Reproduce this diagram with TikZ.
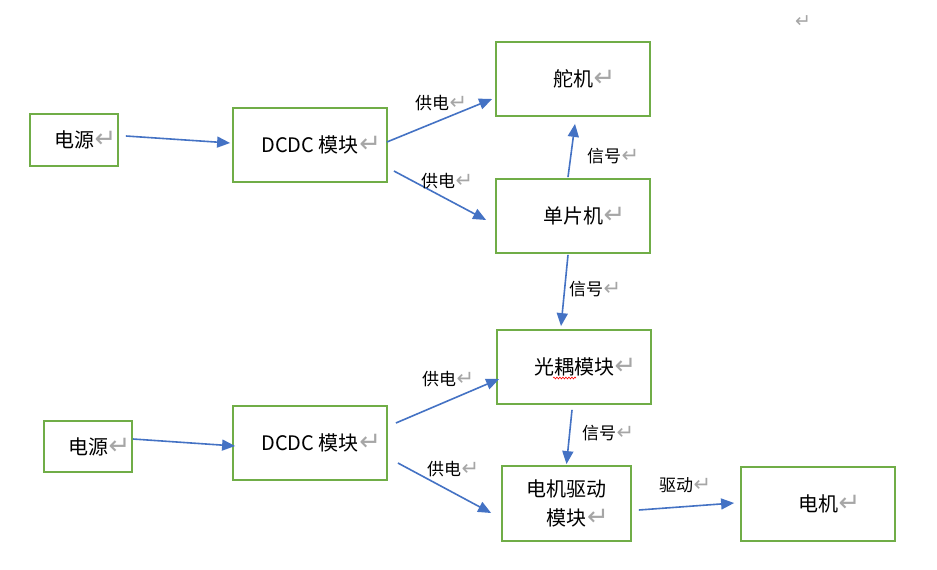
\documentclass[tikz,border=0pt]{standalone}
\usepackage{fontspec}
\newfontfamily\cjk{Noto Sans CJK SC}
\newfontfamily\dvs{DejaVu Sans}
\usetikzlibrary{arrows.meta,calc,decorations.pathmorphing}
\definecolor{boxgreen}{HTML}{70AD47}
\definecolor{arrblue}{HTML}{4472C4}
\definecolor{retgray}{HTML}{A6A6A6}
\newcommand\retmk[1][26]{\rlap{\kern0.5pt\textcolor{retgray}{\fontsize{#1}{#1}\dvs ↵}}}
\begin{document}
\begin{tikzpicture}[x=1pt,y=-1pt,
  box/.style={draw=boxgreen, line width=1.8pt, inner sep=0pt, align=center,
    font=\cjk\fontsize{20}{29}\selectfont, minimum width=154pt, minimum height=74pt},
  arr/.style={draw=arrblue, line width=1.6pt, -{Triangle[length=13pt,width=11pt]}},
  lbl/.style={font=\cjk\fontsize{17}{20}\selectfont, anchor=west, inner sep=0pt}]
\useasboundingbox[fill=white] (0,0) rectangle (937,570);
% boxes
\node[box, minimum width=88pt, minimum height=52pt] (psu1) at (74,140) {电源\retmk};
\node[box] (dcdc1) at (310,145) {DCDC 模块\retmk};
\node[box] (servo) at (573,79) {舵机\retmk};
\node[box] (mcu) at (573,216) {单片机\retmk};
\node[box] (opto) at (574,367) {光耦模块\retmk};
\node[box, minimum width=129pt, minimum height=75pt] (drv) at (566.5,503.5) {电机驱动\\模块\retmk};
\node[box] (motor) at (818,504) {电机\retmk};
\node[box, minimum width=88pt, minimum height=51pt] (psu2) at (88,446.5) {电源\retmk};
\node[box] (dcdc2) at (310,443) {DCDC 模块\retmk};
% spell-check underline
\draw[red, line width=0.6pt, decorate, decoration={snake, amplitude=0.9pt, segment length=3pt}]
  ($(opto.center)+(-21,11)$) -- ($(opto.center)+(2,11)$);
% arrows
\draw[arr] ($(psu1.east)+(7,-4)$) -- ($(dcdc1.west)+(-2,-2)$);
\draw[arr] ($(dcdc1.east)+(-1,-3)$) -- ($(servo.west)+(-3,20)$);
\draw[arr] ($(dcdc1.east)+(6,26)$) -- ($(mcu.west)+(-9,4)$);
\draw[arr] ($(mcu.north)+(-5,-1)$) -- ($(servo.south)+(2,7)$);
\draw[arr] ($(mcu.south)+(-5,1)$) -- ($(opto.north)+(-13,-3)$);
\draw[arr] ($(psu2.east)+(0,-7.5)$) -- ($(dcdc2.west)+(3,3)$);
\draw[arr] ($(dcdc2.east)+(8,-20)$) -- ($(opto.west)+(3,12)$);
\draw[arr] ($(dcdc2.east)+(10,20)$) -- ($(drv.west)+(-10,9.5)$);
\draw[arr] ($(opto.south)+(-2,5)$) -- ($(drv.north)+(0,-1)$);
\draw[arr] ($(drv.east)+(7,6.5)$) -- ($(motor.west)+(-6,-1)$);
% labels
\node[lbl] (l1) at (415,103) {供电\retmk[21]};
\node[lbl] (l2) at (421,181) {供电\retmk[21]};
\node[lbl] (l3) at (587,156) {信号\retmk[21]};
\node[lbl] (l4) at (569,289) {信号\retmk[21]};
\node[lbl] (l5) at (422,379) {供电\retmk[21]};
\node[lbl] (l6) at (427,469) {供电\retmk[21]};
\node[lbl] (l7) at (582,433) {信号\retmk[21]};
\node[lbl] (l8) at (659,485) {驱动\retmk[21]};
\node[inner sep=0pt] (topret) at (803,22) {\textcolor{retgray}{\fontsize{19}{19}\dvs ↵}};
\end{tikzpicture}
\end{document}
